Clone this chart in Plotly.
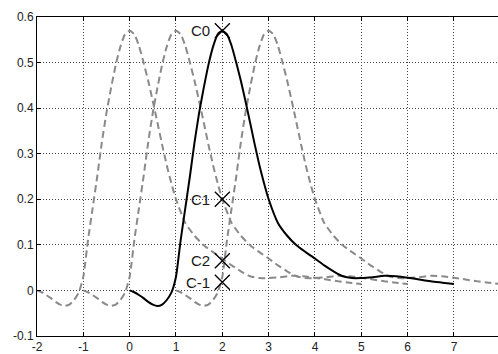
import plotly.graph_objects as go

# black pulse response
pulse_x = [0, 0.1, 0.2, 0.3, 0.4, 0.5, 0.6, 0.7, 0.8, 0.9, 1.0, 1.1, 1.2, 1.3, 1.4, 1.5,
           1.6, 1.7, 1.8, 1.9, 2.0, 2.1, 2.2, 2.3, 2.4, 2.5, 2.6, 2.7, 2.8, 2.9, 3.0,
           3.2, 3.4, 3.6, 3.8, 4.0, 4.2, 4.4, 4.6, 4.8, 5.0, 5.25, 5.5, 5.75, 6.0,
           6.25, 6.5, 6.75, 7.0]
pulse_y = [0.0, -0.004, -0.01, -0.017, -0.025, -0.031, -0.034, -0.031, -0.021, -0.005,
           0.03, 0.11, 0.18, 0.25, 0.325, 0.39, 0.445, 0.495, 0.535, 0.562, 0.57,
           0.562, 0.537, 0.5, 0.46, 0.415, 0.368, 0.32, 0.275, 0.235, 0.2,
           0.148, 0.12, 0.099, 0.084, 0.07, 0.055, 0.042, 0.031, 0.027, 0.027,
           0.029, 0.032, 0.031, 0.028, 0.024, 0.02, 0.017, 0.014]

# shifted copies (dashed)
shifts = [-2, -1, 1]

# sampled cursors
cursor_labels = ["C0", "C1", "C2", "C-1"]
cursor_x = [2, 2, 2, 2]
cursor_y = [0.57, 0.2, 0.065, 0.018]

x_ticks = [-2, -1, 0, 1, 2, 3, 4, 5, 6, 7]
y_ticks = [-0.1, 0, 0.1, 0.2, 0.3, 0.4, 0.5, 0.6]
y_ticklabels = ["-0.1", "0", "0.1", "0.2", "0.3", "0.4", "0.5", "0.6"]

fig = go.Figure()
for s in shifts:
    fig.add_trace(go.Scatter(
        x=[v + s for v in pulse_x], y=pulse_y, mode="lines",
        line=dict(color="#8a8a8a", width=2, dash="7px,4px", shape="spline", smoothing=0.5),
        hoverinfo="skip", showlegend=False))

fig.add_trace(go.Scatter(
    x=pulse_x, y=pulse_y, mode="lines",
    line=dict(color="black", width=2, shape="spline", smoothing=0.5),
    showlegend=False))

fig.add_trace(go.Scatter(
    x=cursor_x, y=cursor_y, mode="markers",
    marker=dict(symbol="x-thin-open", size=15, color="black",
                line=dict(color="black", width=1.3)),
    showlegend=False))

for lab, cx, cy in zip(cursor_labels, cursor_x, cursor_y):
    fig.add_annotation(x=cx, y=cy, text=lab, showarrow=False, xanchor="right",
                       yanchor="middle", xshift=-10,
                       font=dict(family="Liberation Sans, Arial", size=15, color="#1a1a1a"))

fig.update_layout(
    width=498, height=354,
    margin=dict(l=37, r=0, t=17, b=16),
    plot_bgcolor="white", paper_bgcolor="white",
    font=dict(family="Liberation Sans, Arial", size=12, color="#222"),
)
fig.update_xaxes(
    range=[-2, 7.95], tickvals=x_ticks, ticktext=[str(v) for v in x_ticks],
    showgrid=True, gridcolor="#444", griddash="1px,2px", gridwidth=1,
    showline=True, linecolor="black", linewidth=1, mirror="ticks",
    ticks="inside", ticklen=4, tickcolor="black", zeroline=False)
fig.update_yaxes(
    range=[-0.1, 0.6], tickvals=y_ticks, ticktext=y_ticklabels,
    showgrid=True, gridcolor="#444", griddash="1px,2px", gridwidth=1,
    showline=True, linecolor="black", linewidth=1, mirror=False,
    ticks="inside", ticklen=4, tickcolor="black", zeroline=False)

fig.write_html("out.html")
